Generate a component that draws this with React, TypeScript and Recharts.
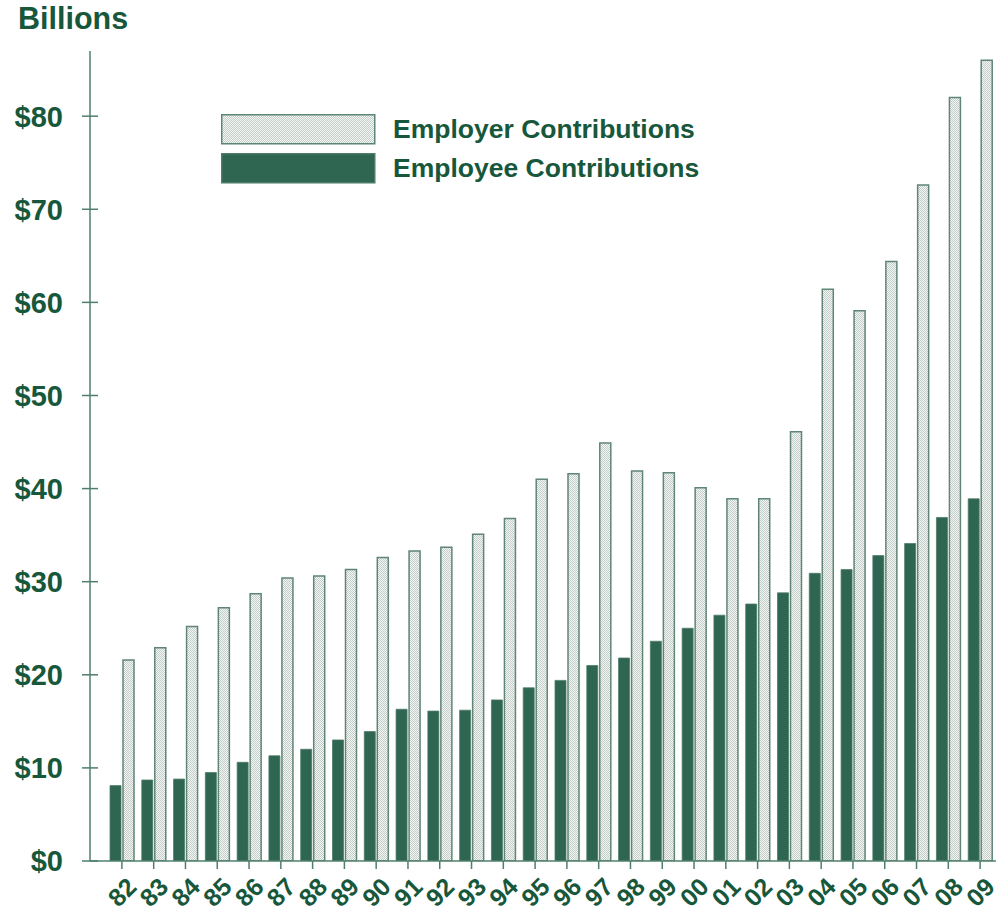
import React from 'react';
import { BarChart, Bar, XAxis, YAxis } from 'recharts';

// years on the category axis
const years = ['82', '83', '84', '85', '86', '87', '88', '89', '90', '91', '92', '93', '94', '95',
  '96', '97', '98', '99', '00', '01', '02', '03', '04', '05', '06', '07', '08', '09'];

// billions of dollars
const employeeContrib = [8.1, 8.7, 8.8, 9.5, 10.6, 11.3, 12.0, 13.0, 13.9, 16.3, 16.1, 16.2, 17.3, 18.6,
  19.4, 21.0, 21.8, 23.6, 25.0, 26.4, 27.6, 28.8, 30.9, 31.3, 32.8, 34.1, 36.9, 38.9];
const employerContrib = [21.6, 22.9, 25.2, 27.2, 28.7, 30.4, 30.6, 31.3, 32.6, 33.3, 33.7, 35.1, 36.8, 41.0,
  41.6, 44.9, 41.9, 41.7, 40.1, 38.9, 38.9, 46.1, 61.4, 59.1, 64.4, 72.6, 82.0, 86.0];

const yTicks = [0, 10, 20, 30, 40, 50, 60, 70, 80];

const data = years.map((year, i) => ({
  year,
  employee: employeeContrib[i],
  employer: employerContrib[i],
}));

const TEXT = '#17573b';
const AXIS = '#4f7f6c';
const DARK = '#2e6651';
const EDGE = '#5f8577';
const FONT = '"Liberation Sans", Arial, sans-serif';

function Stipple({ id }: { id: string }) {
  return (
    <pattern id={id} width="2" height="2" patternUnits="userSpaceOnUse">
      <rect width="2" height="2" fill="#f4f7f5" />
      <rect x="0" y="0" width="1" height="1" fill="#c2cdc8" />
      <rect x="1" y="1" width="1" height="1" fill="#c2cdc8" />
    </pattern>
  );
}

const YTick = (props: any) => {
  const { x, y, payload } = props;
  return (
    <g>
      <line x1={x - 8} x2={x + 8} y1={y} y2={y} stroke={AXIS} strokeWidth={1.5} />
      <text x={x - 27} y={y} dy="0.36em" textAnchor="end" fill={TEXT}
        style={{ fontFamily: FONT, fontWeight: 700, fontSize: 29 }}>
        ${payload.value}
      </text>
    </g>
  );
};

const XTick = (props: any) => {
  const { x, y, payload } = props;
  return (
    <g transform={`translate(${x},${y + 21}) rotate(-45)`}>
      <text x={0} y={0} dy="0.36em" textAnchor="middle" fill={TEXT}
        style={{ fontFamily: FONT, fontWeight: 700, fontSize: 25 }}>
        {payload.value}
      </text>
    </g>
  );
};

function LegendBox() {
  const rows = [
    { label: 'Employer Contributions', fill: 'url(#stippleLegend)', stroke: EDGE },
    { label: 'Employee Contributions', fill: DARK, stroke: '#4d7b69' },
  ];
  return (
    <div style={{ position: 'absolute', left: 221, top: 114 }}>
      <svg width={0} height={0} style={{ position: 'absolute' }}>
        <defs>
          <Stipple id="stippleLegend" />
        </defs>
      </svg>
      {rows.map((r, i) => (
        <div key={r.label} style={{ display: 'flex', alignItems: 'center', height: 30, marginBottom: i === 0 ? 9 : 0 }}>
          <svg width={155} height={31}>
            <rect x={0.75} y={0.75} width={153} height={29} fill={r.fill} stroke={r.stroke} strokeWidth={1.5} />
          </svg>
          <span style={{ marginLeft: 17, fontFamily: FONT, fontWeight: 700, fontSize: 26.5, color: TEXT }}>
            {r.label}
          </span>
        </div>
      ))}
    </div>
  );
}

export default function App() {
  return (
    <div style={{ position: 'absolute', left: 0, top: 0, width: 996, height: 913, background: '#fff' }}>
      <div style={{ position: 'absolute', left: 18, top: 1, fontFamily: FONT, fontWeight: 700, fontSize: 30.5, color: TEXT }}>
        Billions
      </div>
      <BarChart width={996} height={913} data={data} barSize={11} barGap={2}
        margin={{ top: 51, right: 0, bottom: 0, left: 0 }}>
        <defs>
          <Stipple id="stippleBar" />
        </defs>
        <XAxis dataKey="year" height={52} interval={0} padding={{ left: 16, right: 0 }}
          axisLine={{ stroke: AXIS, strokeWidth: 1.5 }} tickLine={{ stroke: AXIS, strokeWidth: 1.5 }}
          tickSize={8} tick={<XTick />} />
        <YAxis width={90} domain={[0, 87]} ticks={yTicks} interval={0} allowDataOverflow
          axisLine={{ stroke: AXIS, strokeWidth: 1.5 }} tickLine={false} tickSize={0} tickMargin={0}
          tick={<YTick />} />
        <Bar dataKey="employee" fill={DARK} stroke="#4d7b69" strokeWidth={0.8} isAnimationActive={false} />
        <Bar dataKey="employer" fill="url(#stippleBar)" stroke={EDGE} strokeWidth={1.5} isAnimationActive={false} />
      </BarChart>
      <LegendBox />
    </div>
  );
}
